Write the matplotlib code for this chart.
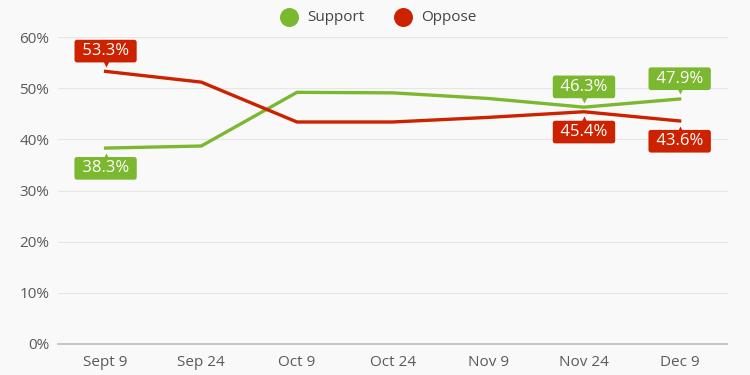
import matplotlib.pyplot as plt
import matplotlib.transforms as mtransforms

# data
dates = ['Sept 9', 'Sep 24', 'Oct 9', 'Oct 24', 'Nov 9', 'Nov 24', 'Dec 9']
support = [38.3, 38.7, 49.2, 49.1, 48.0, 46.3, 47.9]
oppose = [53.3, 51.2, 43.4, 43.4, 44.3, 45.4, 43.6]

# which points carry a label, and above (+1) or below (-1)
support_labels = {0: -1, 5: 1, 6: 1}
oppose_labels = {0: 1, 5: -1, 6: -1}

green = '#7cb82f'
red = '#cc2200'
bg = '#f9f9f9'

plt.rcParams['font.family'] = ['Open Sans', 'DejaVu Sans']

fig = plt.figure(figsize=(7.5, 3.75), dpi=100, facecolor=bg)
ax = fig.add_axes([0.077, 0.083, 0.893, 0.818], facecolor=bg)

x = list(range(len(dates)))
ax.plot(x, support, color=green, lw=2.4, solid_joinstyle='miter', zorder=3)
ax.plot(x, oppose, color=red, lw=2.4, solid_joinstyle='miter', zorder=3)


def add_label(i, vals, side, color):
    off = 14.6 * side
    ax.annotate(f' {vals[i]:.1f}% ', (x[i], vals[i]), xytext=(0, off),
                textcoords='offset points', ha='center', va='center',
                color='white', fontsize=12, zorder=6,
                bbox=dict(boxstyle='round,pad=0.2,rounding_size=0.15',
                          fc=color, ec='none'))
    # little pointer under/over the box
    tr = mtransforms.offset_copy(ax.transData, fig=fig, x=0, y=5.5 * side, units='points')
    ax.plot([x[i]], [vals[i]], marker='v' if side > 0 else '^', ms=4.2,
            color=color, mec='none', transform=tr, zorder=7)


for i, s in support_labels.items():
    add_label(i, support, s, green)
for i, s in oppose_labels.items():
    add_label(i, oppose, s, red)

ax.set_xlim(-0.5, 6.5)
ax.set_ylim(0, 60)
ax.set_xticks(x)
ax.set_xticklabels(dates)
ax.set_yticks(range(0, 61, 10))
ax.set_yticklabels([f'{v}%' for v in range(0, 61, 10)])
ax.tick_params(axis='both', length=0, colors='#5a5a5a', labelsize=11)
ax.tick_params(axis='x', pad=8)
ax.tick_params(axis='y', pad=6)
ax.grid(axis='y', color='#e6e6e6', lw=0.8)
ax.set_axisbelow(True)
for side in ['top', 'right', 'left']:
    ax.spines[side].set_visible(False)
ax.spines['bottom'].set_color('#bbbbbb')
ax.spines['bottom'].set_linewidth(1.2)

h1 = ax.scatter([], [], s=160, color=green, label='Support')
h2 = ax.scatter([], [], s=160, color=red, label='Oppose')
fig.legend(handles=[h1, h2], loc='upper center', bbox_to_anchor=(0.5, 1.01), ncol=2,
           frameon=False, fontsize=11, labelcolor='#444444', handletextpad=0.2,
           columnspacing=1.5)

fig.savefig('out.png', dpi=100, facecolor=bg)
